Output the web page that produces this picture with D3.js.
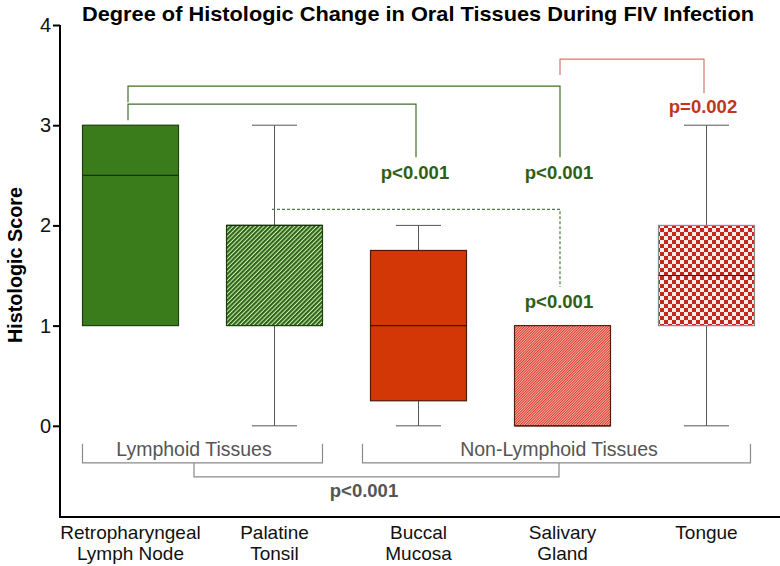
<!DOCTYPE html>
<html>
<head>
<meta charset="utf-8">
<script src="https://cdn.jsdelivr.net/npm/d3@7"></script>
<style>
  html, body { margin: 0; padding: 0; background: #fff; }
  svg { display: block; font-family: "Liberation Sans", Arial, sans-serif; }
</style>
</head>
<body>
<svg id="chart" width="780" height="566"></svg>
<script>
// box plot summary per tissue
const categories = ["Retropharyngeal Lymph Node", "Palatine Tonsil", "Buccal Mucosa", "Salivary Gland", "Tongue"];
const labelLines = [["Retropharyngeal", "Lymph Node"], ["Palatine", "Tonsil"], ["Buccal", "Mucosa"], ["Salivary", "Gland"], ["Tongue"]];
const whiskerLow = [1, 0, 0, 0, 0];
const q1 = [1, 1, 0.25, 0, 1];
const medians = [2.5, 2, 1, 0, 1.5];
const q3 = [3, 2, 1.75, 1, 2];
const whiskerHigh = [3, 3, 2, 1, 3];
const yTicks = [0, 1, 2, 3, 4];

// pairwise comparisons (category indices) and their p values
const compPairs = [[0, 2], [0, 3], [3, 4], [1, 3]];
const compLabels = ["p<0.001", "p<0.001", "p=0.002", "p<0.001"];
// tissue groups
const groupNames = ["Lymphoid Tissues", "Non-Lymphoid Tissues"];
const groupMembers = [[0, 1], [2, 3, 4]];
const groupLabel = "p<0.001";

const width = 780, height = 566;
const svg = d3.select("#chart");

const x = d3.scaleBand().domain(categories).range([58.5, 778.5]).padding(0);
const y = d3.scaleLinear().domain([-0.91, 4]).range([517, 25]);
const boxW = x.bandwidth() * 2 / 3;
const capW = 45;
const cx = i => x(categories[i]) + x.bandwidth() / 2;

// patterns
const defs = svg.append("defs");
const p2 = defs.append("pattern").attr("id", "hatchGreen").attr("patternUnits", "userSpaceOnUse")
  .attr("width", 3.1).attr("height", 10).attr("patternTransform", "rotate(45)");
p2.append("rect").attr("width", 3.1).attr("height", 10).attr("fill", "#d9edc9");
p2.append("rect").attr("width", 2.1).attr("height", 10).attr("fill", "#2c6812");

const p4 = defs.append("pattern").attr("id", "hatchRed").attr("patternUnits", "userSpaceOnUse")
  .attr("width", 1.8).attr("height", 10).attr("patternTransform", "rotate(45)");
p4.append("rect").attr("width", 1.8).attr("height", 10).attr("fill", "#f7b7ab");
p4.append("rect").attr("width", 0.95).attr("height", 10).attr("fill", "#d6392c");

const p5 = defs.append("pattern").attr("id", "checker").attr("patternUnits", "userSpaceOnUse")
  .attr("width", 8).attr("height", 8);
p5.append("rect").attr("width", 8).attr("height", 8).attr("fill", "#fdecea");
p5.append("rect").attr("width", 4).attr("height", 4).attr("fill", "#c5271d");
p5.append("rect").attr("x", 4).attr("y", 4).attr("width", 4).attr("height", 4).attr("fill", "#c5271d");

const fills = ["#3a7b1c", "url(#hatchGreen)", "#d33706", "url(#hatchRed)", "url(#checker)"];
const strokes = ["#1f3f10", "#1f3f10", "#4d1a08", "#5a1d10", "#8a8a8a"];
const medianColors = ["#17330a", "#17330a", "#3d1306", "#5a1d10", "#5a1010"];

// title
svg.append("text")
  .attr("x", 418).attr("y", 21)
  .attr("text-anchor", "middle")
  .attr("font-weight", "bold")
  .attr("font-size", 21)
  .attr("textLength", 672).attr("lengthAdjust", "spacingAndGlyphs")
  .text("Degree of Histologic Change in Oral Tissues During FIV Infection");

// axes
const yAxis = svg.append("g").attr("transform", "translate(60,0)")
  .call(d3.axisLeft(y).tickValues(yTicks).tickFormat(d3.format("d")).tickSize(7).tickSizeOuter(0));
yAxis.select(".domain").attr("stroke", "#000").attr("stroke-width", 2).attr("d", `M0,${y(4)}V${y(-0.91) + 1}`);
yAxis.selectAll(".tick line").attr("stroke", "#000").attr("stroke-width", 2);
yAxis.selectAll(".tick text").attr("font-size", 20).attr("fill", "#111").attr("x", -9)
  .attr("font-family", "Liberation Sans, Arial, sans-serif");

svg.append("line").attr("x1", 59).attr("x2", width).attr("y1", 517).attr("y2", 517)
  .attr("stroke", "#000").attr("stroke-width", 2);

svg.append("text")
  .attr("transform", "translate(22,265) rotate(-90)")
  .attr("text-anchor", "middle")
  .attr("font-weight", "bold").attr("font-size", 20)
  .attr("textLength", 156).attr("lengthAdjust", "spacingAndGlyphs")
  .text("Histologic Score");

// x labels
const xl = svg.append("g");
labelLines.forEach((lines, i) => {
  lines.forEach((t, j) => {
    xl.append("text").attr("x", cx(i)).attr("y", 539 + j * 21)
      .attr("text-anchor", "middle").attr("font-size", 19).attr("fill", "#111").text(t);
  });
});

// boxes
const boxes = svg.append("g").selectAll("g").data(categories).join("g");
boxes.each(function(d, i) {
  const g = d3.select(this);
  const c = cx(i);
  if (whiskerHigh[i] > q3[i]) {
    g.append("line").attr("x1", c).attr("x2", c).attr("y1", y(whiskerHigh[i])).attr("y2", y(q3[i])).attr("stroke", "#555");
    g.append("line").attr("x1", c - capW / 2).attr("x2", c + capW / 2).attr("y1", y(whiskerHigh[i])).attr("y2", y(whiskerHigh[i])).attr("stroke", "#555");
  }
  if (whiskerLow[i] < q1[i]) {
    g.append("line").attr("x1", c).attr("x2", c).attr("y1", y(whiskerLow[i])).attr("y2", y(q1[i])).attr("stroke", "#555");
    g.append("line").attr("x1", c - capW / 2).attr("x2", c + capW / 2).attr("y1", y(whiskerLow[i])).attr("y2", y(whiskerLow[i])).attr("stroke", "#555");
  }
  g.append("rect")
    .attr("x", c - boxW / 2).attr("width", boxW)
    .attr("y", y(q3[i])).attr("height", y(q1[i]) - y(q3[i]))
    .attr("fill", fills[i]).attr("stroke", strokes[i]).attr("stroke-width", 1.2);
  g.append("line").attr("x1", c - boxW / 2).attr("x2", c + boxW / 2)
    .attr("y1", y(medians[i])).attr("y2", y(medians[i]))
    .attr("stroke", medianColors[i]).attr("stroke-width", 1.2);
});

// comparison brackets: [level, left drop, right drop, label baseline] in score units
const bracketGeom = [
  [3.21, 3.05, 2.68, 2.46],
  [3.39, 3.23, 2.68, 2.46],
  [3.66, 3.50, 3.32, 3.12],
  [2.16, 2.16, 1.385, 1.18]
];
const bracketColors = ["#3f6e2a", "#3f6e2a", "#d8796c", "#4f7a3a"];
const labelColors = ["#2f5e17", "#2f5e17", "#c0361a", "#2f5e17"];
const ann = svg.append("g");
compPairs.forEach(([a, b], k) => {
  const [lv, ld, rd, tb] = bracketGeom[k];
  const xa = cx(a) - 2.5, xb = cx(b) - 2.5;
  ann.append("path")
    .attr("d", `M${xa},${y(ld)}V${y(lv)}H${xb}V${y(rd)}`)
    .attr("fill", "none").attr("stroke", bracketColors[k]).attr("stroke-width", 1.2)
    .attr("stroke-dasharray", k === 3 ? "3,2" : null);
  ann.append("text").attr("x", xb - 1).attr("y", y(tb))
    .attr("text-anchor", "middle").attr("font-weight", "bold").attr("font-size", 18.5)
    .attr("fill", labelColors[k]).text(compLabels[k]);
});

// group brackets
const groupX = [[cx(0) - boxW / 2, cx(1) + boxW / 2],
                [cx(2) - boxW / 2 - 8, cx(4) + boxW / 2 - 4]];
const groupMid = [194, 559];
groupNames.forEach((name, k) => {
  const [x0, x1] = groupX[k];
  ann.append("path").attr("d", `M${x0},${y(-0.18)}V${y(-0.37)}H${x1}V${y(-0.18)}`)
    .attr("fill", "none").attr("stroke", "#8a8a8a").attr("stroke-width", 1.2);
  ann.append("text").attr("x", groupMid[k]).attr("y", y(-0.30))
    .attr("text-anchor", "middle").attr("font-size", 19.5).attr("fill", "#555").text(name);
});
ann.append("path").attr("d", `M${groupMid[0]},${y(-0.37)}V${y(-0.51)}H${groupMid[1]}V${y(-0.37)}`)
  .attr("fill", "none").attr("stroke", "#8a8a8a").attr("stroke-width", 1.2);
ann.append("text").attr("x", 364).attr("y", y(-0.71))
  .attr("text-anchor", "middle").attr("font-weight", "bold").attr("font-size", 18.5)
  .attr("fill", "#555").text(groupLabel);
</script>
</body>
</html>
